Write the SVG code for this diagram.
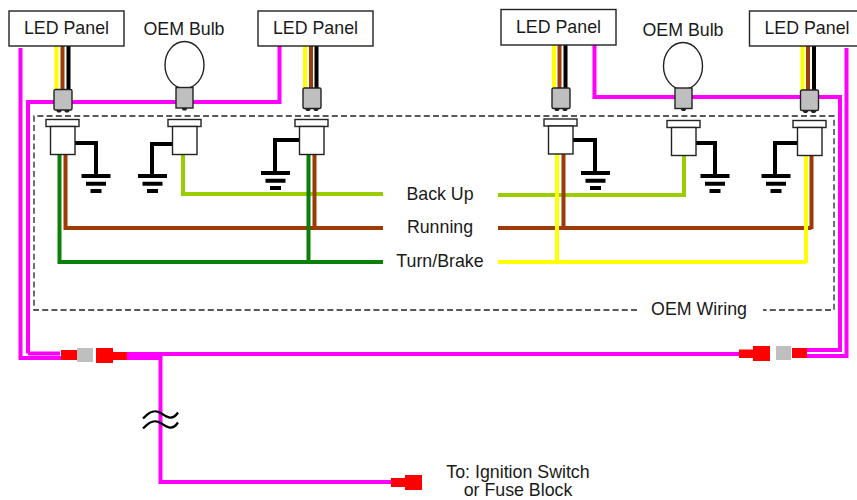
<svg xmlns="http://www.w3.org/2000/svg" width="857" height="500" viewBox="0 0 857 500">
<style>
text{font-family:"Liberation Sans",Arial,sans-serif;font-size:17.800px;fill:#1a1a1a;text-anchor:middle}
.w{fill:none;stroke-width:4;stroke-linejoin:miter}
.m{stroke:#ff00ff}.y{stroke:#ffff00}.b{stroke:#9c3a08}.k{stroke:#000}.g{stroke:#0a800a}.l{stroke:#9acd00}
.panel{fill:#fff;stroke:#222;stroke-width:1.4}
.plug{fill:#bfbfbf;stroke:#222;stroke-width:1.4}
.sock{fill:#fff;stroke:#222;stroke-width:1.4}
.bulb{fill:#fff;stroke:#222;stroke-width:1.4}
.r{fill:#ff0000}.gr{fill:#bfbfbf}
.dash{fill:none;stroke:#222;stroke-width:1.3;stroke-dasharray:6 3.2}
</style>
<defs>
<g id="gnd"><path d="M-14.500 0H14.500M-10 7.700H10M-5.500 15H5.500" fill="none" stroke="#000" stroke-width="4"/></g>
<g id="socket"><rect class="sock" x="-16.500" y="0" width="33" height="7"/><rect class="sock" x="-12" y="7" width="24.500" height="28"/></g>
<g id="plug"><circle cx="-4" cy="20.500" r="2.600" fill="#222"/><circle cx="4" cy="20.500" r="2.600" fill="#222"/><rect class="plug" x="-9" y="0" width="18" height="20.500" rx="1.500"/></g>
<g id="bplug"><circle cx="0" cy="20.500" r="2.600" fill="#222"/><rect class="plug" x="-8.500" y="0" width="17" height="20.500"/></g>
</defs>
<path class="dash" d="M637 310H34V116H834V310H763"/>
<g id="connectors">
<path class="w k" d="M75 143H96V176M172 144H152V176M299 140H275V173M573 140H595V173M696 143H715V176M797 143H775V176"/>
<path class="w l" d="M183 154V194H383M684 155V195H498"/>
<path class="w b" d="M65.500 154V228H383M314.500 154V228M563.500 154V228M811.500 154V229M498 228H811.500"/>
<path class="w g" d="M59.500 154V262H383M308.500 154V262"/>
<path class="w y" d="M557 154V262M806 154V263M498 262H806"/>
<path class="w y" d="M56.500 46V89M305 46V88M554 45V88M802.500 46V90"/>
<path class="w b" d="M62.500 46V89M311 46V88M559.500 45V88M808 46V90"/>
<path class="w k" d="M68.500 46V89M316.500 46V88M565.500 45V88M814 46V90"/>
<path class="w m" d="M20.500 48V358H62M28 353.500V102H279.500V46M60 353.500H28M127 354H740M127 358H160.500V482H392"/>
<path class="w m" d="M594.500 45V97H840V350H807M846.500 48V356H807"/>
<path d="M143 418.500C150 411 155 409.500 160.500 413S172 421.500 178 412.500M143 428.500C150 421 155 419.500 160.500 423S172 431.500 178 422.500" fill="none" stroke="#000" stroke-width="2.300"/>
</g>
<g id="panel1"><rect class="panel" x="9" y="11" width="115" height="35"/><text x="66.500" y="33.500">LED Panel</text></g>
<g id="panel2"><rect class="panel" x="258" y="11" width="115" height="35"/><text x="315.500" y="33.500">LED Panel</text></g>
<g id="panel3"><rect class="panel" x="501" y="9.500" width="115" height="35.500"/><text x="558.500" y="32.500">LED Panel</text></g>
<g id="panel4"><rect class="panel" x="749.500" y="11" width="115" height="35"/><text x="807" y="33.500">LED Panel</text></g>
<g id="bulb1"><text x="184" y="35">OEM Bulb</text><ellipse class="bulb" cx="184.500" cy="65" rx="19.500" ry="23.500"/><use href="#bplug" x="184.500" y="87.500"/></g>
<g id="bulb2"><text x="683" y="36">OEM Bulb</text><ellipse class="bulb" cx="683" cy="66" rx="19.500" ry="23.500"/><use href="#bplug" x="683.500" y="88"/></g>
<g id="plug1"><use href="#plug" x="63" y="89.500"/></g>
<g id="plug2"><use href="#plug" x="312" y="88"/></g>
<g id="plug3"><use href="#plug" x="561" y="88"/></g>
<g id="plug4"><use href="#plug" x="809.500" y="90"/></g>
<g id="socket1"><use href="#socket" x="62.500" y="119.500"/><use href="#gnd" x="96" y="176"/></g>
<g id="socket2"><use href="#socket" x="184.500" y="119.500"/><use href="#gnd" x="152.500" y="176"/></g>
<g id="socket3"><use href="#socket" x="311.500" y="119.500"/><use href="#gnd" x="275.500" y="173"/></g>
<g id="socket4"><use href="#socket" x="560.500" y="119"/><use href="#gnd" x="595.500" y="173"/></g>
<g id="socket5"><use href="#socket" x="683.500" y="120.500"/><use href="#gnd" x="715" y="176"/></g>
<g id="socket6"><use href="#socket" x="809.500" y="120.500"/><use href="#gnd" x="776" y="176"/></g>
<g id="conn-left"><rect class="r" x="61" y="350" width="16" height="10"/><rect class="gr" x="77" y="348" width="16" height="14"/><rect class="r" x="96" y="348" width="17" height="15"/><rect class="r" x="113" y="352" width="14" height="8"/></g>
<g id="conn-right"><rect class="r" x="739" y="349.500" width="14" height="8.500"/><rect class="r" x="753" y="346" width="17" height="15"/><rect class="gr" x="776" y="346" width="15" height="14"/><rect class="r" x="792" y="348" width="15" height="10"/></g>
<g id="conn-end"><rect class="r" x="391" y="478" width="14" height="9"/><rect class="r" x="405" y="475" width="17" height="15"/></g>
<g id="labels">
<text x="440" y="199.500">Back Up</text>
<text x="440" y="233">Running</text>
<text x="440" y="267">Turn/Brake</text>
<text x="699" y="315">OEM Wiring</text>
<text x="518" y="477.500">To: Ignition Switch</text>
<text x="518" y="496">or Fuse Block</text>
</g>
</svg>
